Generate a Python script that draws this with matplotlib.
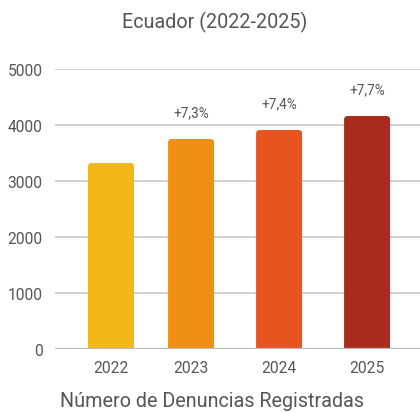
import matplotlib
matplotlib.use("Agg")
import matplotlib.pyplot as plt
from matplotlib.patches import FancyBboxPatch

years = ["2022", "2023", "2024", "2025"]
values = [3320, 3750, 3910, 4160]
growth_labels = ["", "+7,3%", "+7,4%", "+7,7%"]
colors = ["#F4B71A", "#EF8F13", "#E8541F", "#AA2A1E"]
positions = [0, 0.91, 1.91, 2.91]

plt.rcParams['font.family'] = ['Roboto', 'DejaVu Sans']
W, H = 420, 414
fig = plt.figure(figsize=(W / 100, H / 100), dpi=100)
ax = fig.add_axes([55 / W, (H - 350) / H, (420 - 55) / W, 280 / H])

bw = 46 / 88
bars = ax.bar(positions, values, width=bw, color=colors, zorder=3)
ax.set_xlim(-56 / 88, (420 - 111) / 88)
ax.set_ylim(0, 5000)

# rounded tops
px_x = (ax.get_xlim()[1] - ax.get_xlim()[0]) / (420 - 55)
px_y = 5000 / 280
r = 3.5
for b, c in zip(bars, colors):
    b.set_visible(False)
    x0 = b.get_x()
    w = b.get_width()
    h = b.get_height()
    p = FancyBboxPatch((x0, -300), w, h + 300,
                       boxstyle=f"round,pad=0,rounding_size={r * px_x}",
                       mutation_aspect=px_y / px_x,
                       facecolor=c, edgecolor="none", zorder=3, clip_on=True)
    ax.add_patch(p)

for pos, v, lab in zip(positions, values, growth_labels):
    if lab:
        ax.annotate(lab, (pos, v), xytext=(0, 19), textcoords="offset points",
                    ha="center", va="center", fontsize=9.8, color="#555555")

ax.set_yticks([0, 1000, 2000, 3000, 4000, 5000])
ax.set_xticks(positions)
ax.set_xticklabels(years)
ax.grid(axis="y", color="#CCCCCC", linewidth=1.3, zorder=0)
ax.axhline(0, color="#BBBBBB", linewidth=1.6, zorder=4)
for s in ax.spines.values():
    s.set_visible(False)
ax.tick_params(axis="both", length=0, labelsize=11.2, labelcolor="#555555")
ax.tick_params(axis="y", pad=9)
ax.tick_params(axis="x", pad=8)

fig.text(215 / W, 1 - 22 / H, "Ecuador (2022-2025)", ha="center", va="center",
         fontsize=14.2, color="#555555")
fig.text(212 / W, 1 - 402 / H, "Número de Denuncias Registradas", ha="center",
         va="center", fontsize=14.2, color="#555555")

fig.savefig("out.png", dpi=100)
